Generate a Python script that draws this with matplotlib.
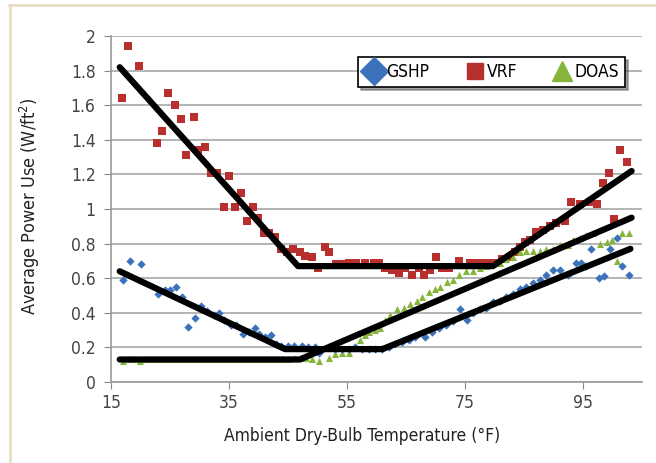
"""Average power use vs ambient dry-bulb temperature for GSHP, VRF and DOAS."""

from matplotlib import pyplot as plt
from matplotlib.lines import Line2D

plt.rcParams['font.family'] = ['DejaVu Sans']
plt.rcParams['font.stretch'] = 'condensed'

# GSHP (blue diamonds)
gshp_x = [17.1, 18.2, 20.1, 23.0, 24.2, 25.1, 26.1, 27.1, 28.0, 29.2, 30.2, 31.2, 32.4, 33.3,
          34.1, 35.3, 36.2, 37.4, 38.4, 39.4, 40.1, 41.1, 42.1, 43.0, 43.8, 45.0, 46.1, 47.3,
          48.4, 49.5, 50.3, 51.9, 52.9, 54.1, 55.3, 56.3, 57.5, 58.7, 59.7, 60.9, 62.1, 63.1,
          64.3, 65.5, 66.5, 68.2, 69.4, 70.6, 71.7, 72.9, 74.2, 75.4, 76.3, 77.5, 78.5, 79.7,
          80.9, 81.9, 83.1, 84.3, 85.3, 86.5, 87.7, 88.7, 89.9, 91.1, 92.5, 93.7, 94.7, 95.5,
          96.4, 97.6, 98.6, 99.6, 100.7, 101.5, 102.7]
gshp_y = [0.59, 0.70, 0.68, 0.51, 0.53, 0.53, 0.55, 0.49, 0.32, 0.37, 0.44, 0.41, 0.39, 0.40,
          0.36, 0.33, 0.33, 0.28, 0.29, 0.31, 0.28, 0.26, 0.27, 0.22, 0.21, 0.21, 0.21, 0.21,
          0.20, 0.20, 0.17, 0.20, 0.19, 0.19, 0.19, 0.20, 0.19, 0.19, 0.19, 0.19, 0.20, 0.22,
          0.23, 0.24, 0.26, 0.26, 0.29, 0.31, 0.33, 0.35, 0.42, 0.36, 0.40, 0.42, 0.43, 0.46,
          0.47, 0.49, 0.51, 0.54, 0.55, 0.57, 0.59, 0.62, 0.65, 0.65, 0.62, 0.69, 0.69, 0.67,
          0.77, 0.60, 0.61, 0.77, 0.83, 0.67, 0.62]

# VRF (red squares)
vrf_x = [16.9, 17.9, 19.8, 22.8, 23.7, 24.7, 25.8, 26.8, 27.8, 29.0, 29.8, 30.9, 31.9, 32.9,
         34.1, 35.0, 36.0, 37.0, 38.0, 39.1, 39.9, 40.9, 41.8, 42.8, 43.8, 44.9, 45.9, 47.1,
         47.9, 49.0, 50.0, 51.2, 52.0, 53.2, 54.4, 55.4, 56.6, 58.0, 59.5, 60.4, 61.4, 62.6,
         63.8, 64.8, 66.0, 67.2, 68.1, 69.1, 70.1, 71.1, 72.3, 74.0, 75.8, 76.8, 78.0, 79.2,
         80.2, 81.2, 82.6, 83.4, 84.3, 85.1, 86.0, 87.0, 88.2, 89.4, 90.4, 92.0, 93.0, 94.5,
         96.2, 97.4, 98.3, 99.3, 100.2, 101.3, 102.4]
vrf_y = [1.64, 1.94, 1.83, 1.38, 1.45, 1.67, 1.60, 1.52, 1.31, 1.53, 1.34, 1.36, 1.21, 1.21,
         1.01, 1.19, 1.01, 1.09, 0.93, 1.01, 0.95, 0.86, 0.86, 0.84, 0.77, 0.75, 0.77, 0.75,
         0.73, 0.72, 0.66, 0.78, 0.75, 0.68, 0.68, 0.69, 0.69, 0.69, 0.69, 0.69, 0.66, 0.65,
         0.63, 0.66, 0.62, 0.66, 0.62, 0.65, 0.72, 0.66, 0.66, 0.70, 0.69, 0.69, 0.69, 0.69,
         0.69, 0.71, 0.72, 0.75, 0.78, 0.81, 0.82, 0.87, 0.88, 0.90, 0.92, 0.93, 1.04, 1.03,
         1.04, 1.03, 1.15, 1.21, 0.94, 1.34, 1.27]

# DOAS (green triangles)
doas_x = [17, 18, 19, 20, 21, 22, 23, 24, 25, 26, 27, 28, 29, 30, 31, 32, 33, 34, 35, 36,
          37, 38, 39, 40, 41, 42, 43, 44, 45, 46, 47, 48, 49, 50.2, 51.9, 52.9, 54.1, 55.3,
          56.3, 57.2, 58.0, 58.7, 59.7, 60.6, 61.4, 62.3, 63.5, 64.7, 65.7, 66.9, 67.7, 68.9,
          69.9, 70.8, 72.0, 72.9, 74.0, 75.1, 76.3, 77.5, 78.5, 79.7, 80.9, 81.9, 83.1, 84.3,
          85.3, 86.5, 87.7, 88.7, 89.9, 91.1, 92.5, 93.3, 94.5, 95.5, 96.7, 97.9, 99.0, 99.8,
          100.7, 101.5, 102.7]
doas_y = [0.12, 0.13, 0.13, 0.12, 0.13, 0.13, 0.13, 0.13, 0.13, 0.13, 0.13, 0.13, 0.13, 0.13,
          0.13, 0.13, 0.13, 0.13, 0.13, 0.13, 0.13, 0.13, 0.13, 0.13, 0.13, 0.13, 0.13, 0.13,
          0.13, 0.14, 0.14, 0.14, 0.13, 0.12, 0.14, 0.16, 0.17, 0.17, 0.20, 0.24, 0.27, 0.29,
          0.30, 0.31, 0.36, 0.39, 0.42, 0.43, 0.45, 0.47, 0.49, 0.52, 0.54, 0.55, 0.58, 0.59,
          0.62, 0.64, 0.64, 0.66, 0.67, 0.68, 0.69, 0.71, 0.72, 0.75, 0.76, 0.76, 0.76, 0.77,
          0.77, 0.79, 0.79, 0.82, 0.83, 0.85, 0.86, 0.80, 0.81, 0.82, 0.70, 0.86, 0.86]

# piecewise linear trend lines (breakpoints)
gshp_fit_x = [16.5, 44.5, 61.0, 103.0]
gshp_fit_y = [0.64, 0.19, 0.19, 0.77]
vrf_fit_x = [16.5, 46.7, 79.7, 103.2]
vrf_fit_y = [1.82, 0.67, 0.67, 1.22]
doas_fit_x = [16.5, 47.0, 103.2]
doas_fit_y = [0.13, 0.13, 0.95]

x_ticks = [15, 35, 55, 75, 95]
y_ticks = [0, 0.2, 0.4, 0.6, 0.8, 1, 1.2, 1.4, 1.6, 1.8, 2]
y_tick_labels = ['0', '0.2', '0.4', '0.6', '0.8', '1', '1.2', '1.4', '1.6', '1.8', '2']

blue = '#3b72bb'
red = '#b8302e'
green = '#86b53c'

fig = plt.figure(figsize=(6.56, 4.63), dpi=100)
ax = fig.add_axes([0.169, 0.175, 0.81, 0.747])

# beige frame of the page
fig.add_artist(Line2D([0.015, 0.015], [0.0, 0.989], color='#e8dcc2', lw=2))
fig.add_artist(Line2D([0.013, 1.0], [0.989, 0.989], color='#e8dcc2', lw=2))

ax.scatter(vrf_x, vrf_y, marker='s', s=30, color=red, zorder=3, linewidths=0)
ax.scatter(doas_x, doas_y, marker='^', s=26, color=green, zorder=3, linewidths=0)
ax.scatter(gshp_x, gshp_y, marker='D', s=18, color=blue, zorder=3, linewidths=0)

for fx, fy in [(vrf_fit_x, vrf_fit_y), (gshp_fit_x, gshp_fit_y), (doas_fit_x, doas_fit_y)]:
    ax.plot(fx, fy, color='black', lw=4.5, solid_capstyle='round', zorder=4)

ax.set_xlim(15, 105)
ax.set_ylim(0, 2)
ax.set_xticks(x_ticks)
ax.set_yticks(y_ticks)
ax.set_yticklabels(y_tick_labels)
ax.tick_params(axis='both', direction='out', length=5, color='#888888',
               labelsize=12.5, labelcolor='#444444')
ax.tick_params(axis='y', pad=6)
ax.grid(axis='y', color='#a8a8a8', lw=1.2)
ax.set_axisbelow(True)
for side in ['top', 'right']:
    ax.spines[side].set_visible(False)
for side in ['left', 'bottom']:
    ax.spines[side].set_color('#999999')
    ax.spines[side].set_linewidth(1.2)

ax.set_xlabel('Ambient Dry-Bulb Temperature (°F)', fontsize=12.5, color='#222222')
ax.set_ylabel('Average Power Use (W/ft$^2$)', fontsize=13, color='#222222')
ax.xaxis.set_label_coords(0.473, -0.13)
ax.yaxis.set_label_coords(-0.13, 0.509)

handles = [
    Line2D([], [], marker='D', ls='none', color=blue, markersize=14),
    Line2D([], [], marker='s', ls='none', color=red, markersize=12),
    Line2D([], [], marker='^', ls='none', color=green, markersize=14),
]
leg = ax.legend(handles, ['GSHP', 'VRF', 'DOAS'], ncol=3, loc='upper right',
                bbox_to_anchor=(0.968, 0.939), borderaxespad=0, fontsize=12.5,
                frameon=True, shadow=True, fancybox=False, handletextpad=0.1,
                columnspacing=2.0, borderpad=0.35, handlelength=1.2)
leg.get_frame().set_edgecolor('black')
leg.get_frame().set_linewidth(1.2)

fig.savefig('out.png', dpi=100)
